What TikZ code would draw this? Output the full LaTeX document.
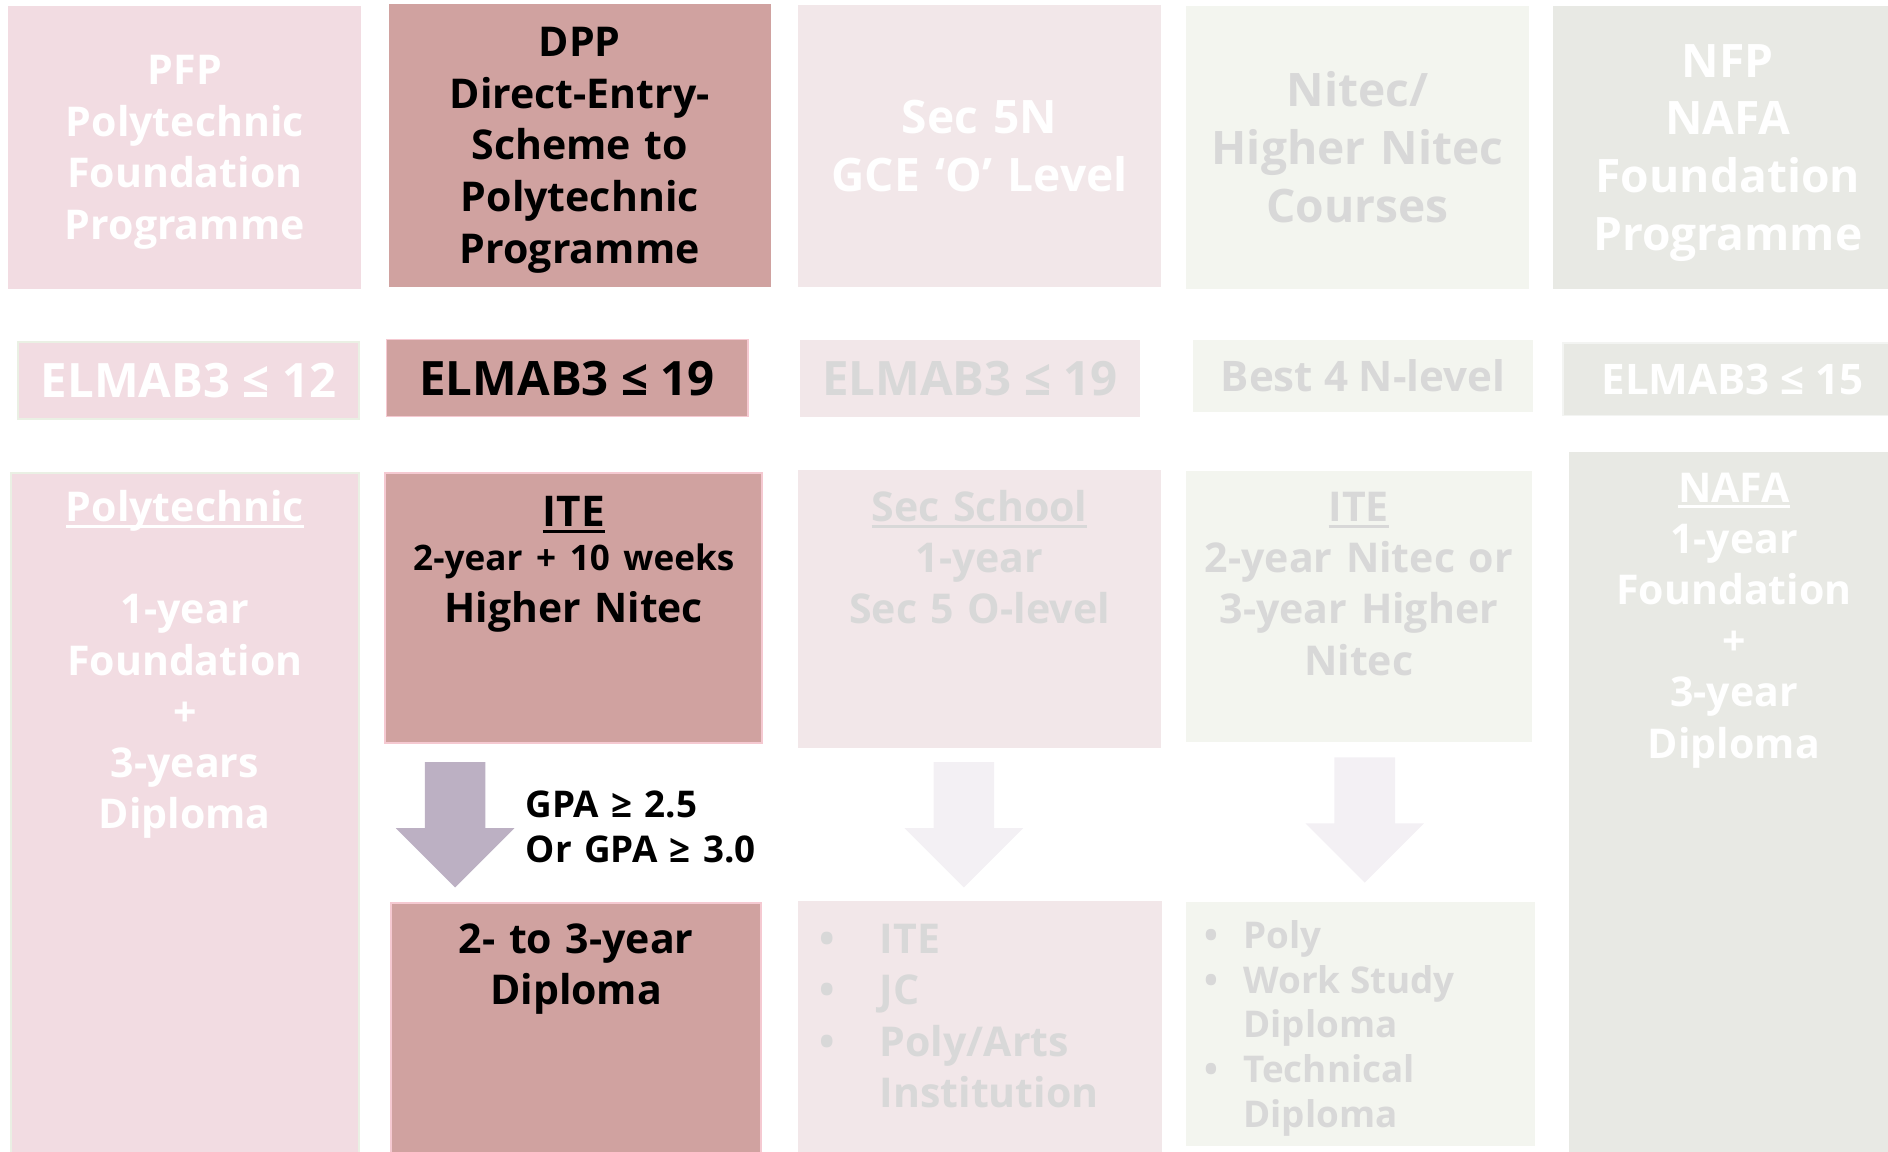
\documentclass[tikz,border=0pt]{standalone}
\usepackage{fontspec}
\setmainfont{Open Sans}
\usetikzlibrary{shapes.arrows}
\usepackage{xcolor}

\definecolor{pfpfill}{HTML}{F2DCE2}
\definecolor{pfpline}{HTML}{EAF0E4}
\definecolor{dppfill}{HTML}{D0A2A0}
\definecolor{dppline}{HTML}{F5C9D1}
\definecolor{secfill}{HTML}{F2E7E9}
\definecolor{nitecfill}{HTML}{F3F5EF}
\definecolor{nfpfill}{HTML}{E8E9E4}
\definecolor{greytext}{HTML}{D8D8D8}
\definecolor{dpparrow}{HTML}{BCB0C3}
\definecolor{palearrow}{HTML}{F3F0F4}

\newcommand{\ttlfont}{\fontsize{9.7}{12.2}\selectfont\bfseries}
\newcommand{\bigttlfont}{\fontsize{10.9}{13.7}\selectfont\bfseries}
\newcommand{\critfont}{\fontsize{11.2}{13}\selectfont\bfseries}
\newcommand{\smcritfont}{\fontsize{9.95}{12}\selectfont\bfseries}
\newcommand{\bodyfont}{\fontsize{9.7}{12.1}\selectfont\bfseries}
\newcommand{\gpafont}{\fontsize{8.7}{10.6}\selectfont\bfseries}
\newcommand{\ulword}[1]{\setbox0\hbox{#1}\rlap{\rule[-0.15em]{\wd0}{0.07em}}\box0}

\begin{document}
\begin{tikzpicture}[x=0.1mm, y=-0.1mm,
  box/.style={inner sep=0pt, align=center},
  txt/.style={inner sep=0pt, anchor=base, align=center},
  downarrow/.style={single arrow, rotate=-90, anchor=tip, inner xsep=0pt, inner ysep=2.45mm, minimum height=10.4mm,
    minimum width=9.7mm, single arrow head extend=2.4mm, single arrow tip angle=90}]
\useasboundingbox (0,0) rectangle (1568,956);

% top row: schemes
\node (pfp) [box, fill=pfpfill, minimum width=29.3mm, minimum height=23.5mm, text width=28mm, font=\ttlfont, text=white] at (153.5,122.5) {PFP\\Polytechnic\\Foundation\\\smash{Programme}};
\node (dpp) [box, fill=dppfill, minimum width=31.7mm, minimum height=23.5mm, text width=30mm, font=\ttlfont] at (481.5,120.5) {DPP\\Direct-Entry-\\Scheme to\\Polytechnic\\\smash{Programme}};
\node (sec) [box, fill=secfill, minimum width=30.1mm, minimum height=23.4mm, text width=29mm, font=\bigttlfont, text=white] at (813.5,121) {Sec 5N\\GCE ‘O’ Level};
\node (nitec) [box, fill=nitecfill, minimum width=28.5mm, minimum height=23.5mm, text width=28mm, font=\bigttlfont, text=greytext] at (1127.5,122.5) {Nitec/\\Higher Nitec\\Courses};
\node (nfp) [box, fill=nfpfill, minimum width=29mm, minimum height=23.5mm, text width=28mm, font=\bigttlfont, text=white] at (1435,122.5) {NFP\\NAFA\\Foundation\\\smash{Programme}};

% second row: entry criteria
\node (elm12) [box, fill=pfpfill, draw=pfpline, minimum width=28.3mm, minimum height=6.4mm, font=\critfont, text=white] at (156.5,316) {ELMAB3 ≤ 12};
\node (elm19) [box, fill=dppfill, draw=dppline, minimum width=30mm, minimum height=6.4mm, font=\critfont] at (471,314) {ELMAB3 ≤ 19};
\node (elmsec) [box, fill=secfill, minimum width=28.3mm, minimum height=6.4mm, font=\critfont, text=greytext] at (805.5,314) {ELMAB3 ≤ 19};
\node (best4) [box, fill=nitecfill, minimum width=28.2mm, minimum height=6mm, font=\smcritfont, text=greytext] at (1132,312) {Best 4 N-level};
\node (elm15) [box, fill=nfpfill, draw=white!50!nfpfill, minimum width=28.2mm, minimum height=6mm, font=\smcritfont, text=white] at (1439,315) {ELMAB3 ≤ 15};

% third row: courses
\node (poly) [box, fill=pfpfill, draw=pfpline, minimum width=28.9mm, minimum height=57.3mm] at (153.5,679.5) {};
\node (polytxt) [txt, text width=28mm, font=\bodyfont, text=white] at (153.5,433) {\ulword{Polytechnic}\\[12.1pt]1-year\\Foundation\\+\\3-years\\Diploma};
\node (ite) [box, fill=dppfill, draw=dppline, minimum width=31.3mm, minimum height=22.4mm] at (476.5,505) {};
\node (itetxt) [txt, text width=30mm, font=\fontsize{9.65}{10.5}\selectfont\bfseries] at (476.5,437) {{\fontsize{10}{12}\selectfont\bfseries\ulword{ITE}}\\{\fontsize{8.3}{10.2}\selectfont\bfseries 2-year + 10 weeks}\\[1.7pt]Higher Nitec};
\node (secsch) [box, fill=secfill, minimum width=30.1mm, minimum height=23.1mm] at (813.5,505.5) {};
\node (secschtxt) [txt, text width=29mm, font=\bodyfont, text=greytext] at (813.5,433) {\ulword{Sec School}\\1-year\\Sec 5 O-level};
\node (itenitec) [box, fill=nitecfill, minimum width=28.7mm, minimum height=22.5mm] at (1128.5,503.5) {};
\node (itenitectxt) [txt, text width=28mm, font=\bodyfont, text=greytext] at (1128.5,433) {\ulword{ITE}\\2-year Nitec or\\3-year Higher\\Nitec};
\node (nafa) [box, fill=nfpfill, minimum width=27.7mm, minimum height=59.1mm] at (1441.5,670.5) {};
\node (nafatxt) [txt, text width=27mm, font=\bodyfont, text=white] at (1440,417) {\ulword{NAFA}\\1-year\\Foundation\\+\\3-year\\Diploma};

% arrows
\node (arrdpp) [downarrow, fill=dpparrow] at (378,738) {};
\node (arrsec) [downarrow, fill=palearrow] at (800.5,738) {};
\node (arrnitec) [downarrow, fill=palearrow] at (1133.5,734) {};
\node (gpa) [inner sep=0pt, anchor=base west, text width=22mm, align=left, font=\gpafont] at (436,679) {GPA ≥ 2.5\\Or GPA ≥ 3.0};

% bottom row: outcomes
\node (dip) [box, fill=dppfill, draw=dppline, minimum width=30.7mm, minimum height=21.6mm] at (478.5,858) {};
\node (diptxt) [txt, text width=30mm, font=\bodyfont] at (478.5,792) {2- to 3-year\\Diploma};
\node (seclist) [box, fill=secfill, minimum width=30.2mm, minimum height=21.8mm] at (814,857) {};
\node (seclisttxt) [inner sep=0pt, anchor=base west, font=\bodyfont, text=greytext] at (680,792)
  {\begin{tabular}[t]{@{}p{5mm}@{}l@{}}•&ITE\\•&JC\\•&Poly/Arts\\&Institution\end{tabular}};
\node (niteclist) [box, fill=nitecfill, minimum width=29mm, minimum height=20.3mm] at (1130,850.5) {};
\node (niteclisttxt) [inner sep=0pt, anchor=base west, font=\gpafont, text=greytext] at (1000,787.5)
  {\begin{tabular}[t]{@{}p{3.2mm}@{}l@{}}•&Poly\\•&Work Study\\&Diploma\\•&Technical\\&Diploma\end{tabular}};
\end{tikzpicture}
\end{document}
